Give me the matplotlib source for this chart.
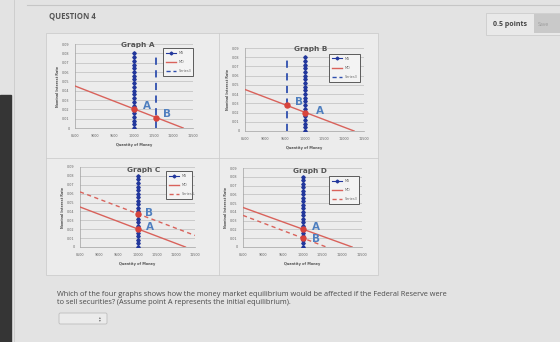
import matplotlib
matplotlib.use('Agg')
import matplotlib.pyplot as plt
from matplotlib.patches import Rectangle, FancyBboxPatch
from matplotlib.lines import Line2D

W, H = 560, 342

# axis values
x_ticks = [8500, 9000, 9500, 10000, 10500, 11000, 11500]
y_ticks = [0, 0.01, 0.02, 0.03, 0.04, 0.05, 0.06, 0.07, 0.08, 0.09]
y_labels = ['0', '0.01', '0.02', '0.03', '0.04', '0.05', '0.06', '0.07', '0.08', '0.09']

# money demand (same in every graph)
md_q = [8500, 11250]
md_r = [0.045, 0.0]

# money supply: vertical line with markers
ms_r = [0, 0.004, 0.008, 0.012, 0.016, 0.02, 0.024, 0.028, 0.032, 0.036, 0.04,
        0.044, 0.048, 0.052, 0.056, 0.06, 0.064, 0.068, 0.072, 0.076, 0.08]
ms_q = 10000

# Series3 per graph
a_s3_q = [10550, 10550]
a_s3_r = [0, 0.08]
b_s3_q = [9550, 9550]
b_s3_r = [0, 0.08]
c_s3_q = [8500, 11500]
c_s3_r = [0.062, 0.013]
d_s3_q = [8500, 10600]
d_s3_r = [0.036, 0.0]

# equilibrium points (A, B)
a_pts = [(10000, 0.02), (10550, 0.0105)]
b_pts = [(10000, 0.02), (9550, 0.028)]
c_pts = [(10000, 0.02), (10000, 0.037)]
d_pts = [(10000, 0.02), (10000, 0.0103)]

titles = ['Graph A', 'Graph B', 'Graph C', 'Graph D']

RED = '#d9625b'
BLUE = '#22379c'
LBL = '#4f7fbf'
PT = '#d8443c'


def box(x0, y0, x1, y1):
    return [x0 / W, 1 - y1 / H, (x1 - x0) / W, (y1 - y0) / H]


fig = plt.figure(figsize=(5.6, 3.42), dpi=100, facecolor='#e3e3e3')

bg = fig.add_axes([0, 0, 1, 1])
bg.set_xlim(0, W)
bg.set_ylim(H, 0)
bg.axis('off')

# page decorations
bg.add_patch(Rectangle((0, 95), 11, 247, color='#353535'))
bg.plot([14, 14], [0, 342], color='#cacaca', lw=0.6)
bg.plot([27, 560], [5, 5], color='#c6c6c6', lw=0.8)
bg.add_patch(Rectangle((46, 33), 332, 242, fc='#ececec', ec='#cdcdcd', lw=0.6))
bg.plot([219, 219], [33, 275], color='#cdcdcd', lw=0.6)
bg.plot([46, 378], [158, 158], color='#cdcdcd', lw=0.6)

bg.text(49, 16, 'QUESTION 4', fontsize=5.6, fontweight='bold', color='#555555',
        family='Open Sans', va='center')
bg.add_patch(Rectangle((486, 13), 80, 22, fc='#e9e9e9', ec='#cccccc', lw=0.6))
bg.text(493, 24, '0.5 points', fontsize=5, fontweight='bold', color='#444444',
        family='Open Sans', va='center')
bg.add_patch(Rectangle((534, 14), 30, 19, fc='#c9c9c9', ec='none'))
bg.text(538, 24, 'Save', fontsize=3.8, color='#9a9a9a', family='Open Sans', va='center')

bg.text(57, 295, 'Which of the four graphs shows how the money market equilibrium would be '
        'affected if the Federal Reserve were', fontsize=5.3, color='#4a4a4a',
        family='Open Sans', va='center')
bg.text(57, 303, 'to sell securities? (Assume point A represents the initial equilibrium).',
        fontsize=5.3, color='#4a4a4a', family='Open Sans', va='center')
bg.add_patch(FancyBboxPatch((59, 313), 48, 11, boxstyle='round,pad=0,rounding_size=1.5',
                            fc='#ebebeb', ec='#bdbdbd', lw=0.6))
bg.text(100, 318.5, '\u25b4\n\u25be', fontsize=2.6, color='#666666', ha='center',
        va='center', linespacing=0.7)

# plot areas (pixels), title positions, legend boxes
areas = [(75, 44, 193, 128), (245, 48, 364, 131), (80, 167, 195, 247), (243, 168, 362, 247)]
title_pos = [(138, 45), (311, 49), (144, 170), (310, 171)]
leg_box = [(161, 46, 195, 76), (327, 52, 362, 82), (164, 169, 194, 197), (327, 174, 361, 202)]

s3_q = [a_s3_q, b_s3_q, c_s3_q, d_s3_q]
s3_r = [a_s3_r, b_s3_r, c_s3_r, d_s3_r]
pts = [a_pts, b_pts, c_pts, d_pts]
s3_blue = [True, True, False, False]
lbl_off = [[(230, 0.004), (200, 0.0045)],
           [(280, 0.0015), (200, 0.003)],
           [(220, 0.002), (200, 0.001)],
           [(250, 0.003), (230, -0.0008)]]

for i in range(4):
    ax = fig.add_axes(box(*areas[i]))
    ax.set_facecolor('none')
    ax.set_xlim(8500, 11500)
    ax.set_ylim(0, 0.09)
    for y in y_ticks[1:]:
        ax.axhline(y, color='#bdbdbd', lw=0.5, zorder=0)
    for s in ['top', 'right']:
        ax.spines[s].set_visible(False)
    for s in ['left', 'bottom']:
        ax.spines[s].set_color('#a0a0a0')
        ax.spines[s].set_linewidth(0.5)
    ax.set_xticks(x_ticks)
    ax.set_xticklabels([str(v) for v in x_ticks])
    ax.set_yticks(y_ticks)
    ax.set_yticklabels(y_labels)
    ax.tick_params(labelsize=2.4, length=0, colors='#666666')
    ax.tick_params(axis='x', pad=4)
    ax.tick_params(axis='y', pad=4)
    ax.set_xlabel('Quantity of Money', fontsize=2.5, fontweight='bold', color='#555555',
                  labelpad=4)
    ax.set_ylabel('Nominal Interest Rate', fontsize=2.4, fontweight='bold', color='#555555',
                  labelpad=1.5)

    ax.plot(md_q, md_r, color=RED, lw=1.0, zorder=3)
    if s3_blue[i]:
        ax.plot(s3_q[i], s3_r[i], color='#2f4fae', lw=1.3, dashes=(4, 3), zorder=3)
    else:
        ax.plot(s3_q[i], s3_r[i], color=RED, lw=1.0, dashes=(3, 2.5), zorder=3)
    ax.plot([ms_q] * len(ms_r), ms_r, color=BLUE, lw=0.9, marker='D', ms=1.8, zorder=4)

    for j, name in enumerate(['A', 'B']):
        px, py = pts[i][j]
        ax.plot(px, py, 'o', color=PT, ms=3.6, zorder=5)
        ax.text(px + lbl_off[i][j][0], py + lbl_off[i][j][1], name, fontsize=7.5,
                color=LBL, fontweight='bold', va='center', ha='left', zorder=6)

    fig.text(title_pos[i][0] / W, 1 - title_pos[i][1] / H, titles[i], fontsize=5.3,
             fontweight='bold', color='#555555', ha='center', va='center')

    s3c = '#2f4fae' if s3_blue[i] else RED
    handles = [Line2D([], [], color=BLUE, lw=0.8, marker='D', ms=1.5),
               Line2D([], [], color=RED, lw=1.0),
               Line2D([], [], color=s3c, lw=1.0, dashes=(3, 2))]
    x0, y0, x1, y1 = leg_box[i]
    leg = ax.legend(handles, ['MS', 'MD', 'Series3'], loc='upper left',
                    bbox_to_anchor=(x0 / W, 1 - y1 / H, (x1 - x0) / W, (y1 - y0) / H),
                    bbox_transform=fig.transFigure, mode='expand', fontsize=2.4,
                    fancybox=False, edgecolor='#444444', facecolor='#f3f3f3', framealpha=1,
                    handlelength=3.2, borderpad=0.9, labelspacing=1.6, handletextpad=0.8)
    leg.get_frame().set_linewidth(0.6)
    for t in leg.get_texts():
        t.set_color('#666666')

fig.savefig('out.png', dpi=100, facecolor=fig.get_facecolor())
